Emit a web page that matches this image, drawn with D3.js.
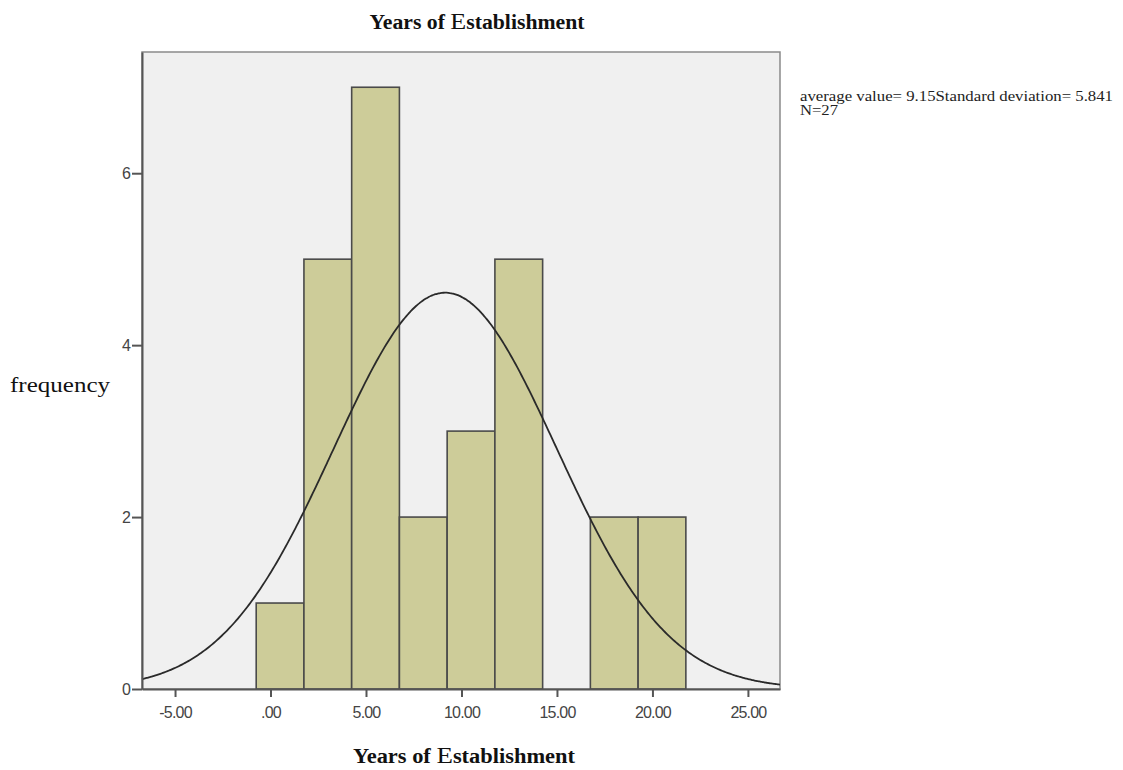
<!DOCTYPE html>
<html>
<head>
<meta charset="utf-8">
<script src="https://cdn.jsdelivr.net/npm/d3@7"></script>
<style>
  html, body { margin: 0; padding: 0; background: #ffffff; }
  svg { display: block; }
</style>
</head>
<body>
<svg id="chart" width="1123" height="770"></svg>
<script>
// Histogram of years since establishment, with fitted normal curve
const binStarts = [-0.75, 1.75, 4.25, 6.75, 9.25, 11.75, 14.25, 16.75, 19.25];
const binWidth = 2.5;
const frequencies = [1, 5, 7, 2, 3, 5, 0, 2, 2];
const meanValue = 9.15;
const stdDev = 5.841;
const sampleSize = 27;
const xTicks = [-5, 0, 5, 10, 15, 20, 25];
const yTicks = [0, 2, 4, 6];
const xDomain = [-6.73, 26.68];
const yDomain = [0, 7.41];

const svg = d3.select("#chart");
const plot = { left: 142, right: 780, top: 52, bottom: 689 };

const x = d3.scaleLinear().domain(xDomain).range([plot.left, plot.right]);
const y = d3.scaleLinear().domain(yDomain).range([plot.bottom, plot.top]);

// plot background and frame
svg.append("rect")
  .attr("x", plot.left).attr("y", plot.top)
  .attr("width", plot.right - plot.left).attr("height", plot.bottom - plot.top)
  .attr("fill", "#f0f0f0")
  .attr("stroke", "#8a8a8a").attr("stroke-width", 1.5);

// bars
const bins = binStarts.map((s, i) => ({ x0: s, x1: s + binWidth, count: frequencies[i] }))
  .filter(b => b.count > 0);
svg.append("g").selectAll("rect").data(bins).join("rect")
  .attr("x", d => x(d.x0))
  .attr("y", d => y(d.count))
  .attr("width", d => x(d.x1) - x(d.x0))
  .attr("height", d => y(0) - y(d.count))
  .attr("fill", "#cdcc99")
  .attr("stroke", "#4a4a4a").attr("stroke-width", 1.6);

// fitted normal curve, scaled to counts per bin
const density = v => sampleSize * binWidth / (stdDev * Math.sqrt(2 * Math.PI)) *
  Math.exp(-0.5 * Math.pow((v - meanValue) / stdDev, 2));
const curvePts = d3.range(0, 401).map(i => {
  const v = xDomain[0] + (xDomain[1] - xDomain[0]) * i / 400;
  return [v, density(v)];
});
svg.append("path")
  .datum(curvePts)
  .attr("fill", "none")
  .attr("stroke", "#2a2a2a").attr("stroke-width", 1.8)
  .attr("d", d3.line().x(d => x(d[0])).y(d => y(d[1])).curve(d3.curveBasis));

// axes
const fmtX = v => d3.format(".2f")(v).replace("\u2212", "-").replace(/^0\./, ".");
const xAxis = svg.append("g")
  .attr("transform", `translate(0,${plot.bottom})`)
  .call(d3.axisBottom(x).tickValues(xTicks).tickFormat(fmtX).tickSize(8).tickSizeOuter(0));
const yAxis = svg.append("g")
  .attr("transform", `translate(${plot.left},0)`)
  .call(d3.axisLeft(y).tickValues(yTicks).tickFormat(d3.format("d")).tickSize(10).tickSizeOuter(0));

[xAxis, yAxis].forEach(g => {
  g.select(".domain").attr("stroke", "#555").attr("stroke-width", 2);
  g.selectAll(".tick line").attr("stroke", "#555").attr("stroke-width", 2);
  g.selectAll(".tick text")
    .attr("fill", "#444")
    .style("font-family", "'Liberation Sans', Arial, sans-serif")
    .style("font-size", "16px")
    .style("letter-spacing", "-0.8px");
});
xAxis.selectAll(".tick text").attr("y", 14).attr("dy", "0.95em");
yAxis.selectAll(".tick text").attr("x", -12);

// titles
function serifTitle(tx, ty, len) {
  const t = svg.append("text")
    .attr("x", tx).attr("y", ty)
    .attr("text-anchor", "middle")
    .attr("textLength", len).attr("lengthAdjust", "spacingAndGlyphs")
    .style("font-family", "'Liberation Serif', 'Times New Roman', serif")
    .style("font-weight", "bold")
    .style("font-size", "20px")
    .attr("fill", "#111");
  t.append("tspan").text("Years of ");
  t.append("tspan").style("font-size", "24px").style("font-weight", "normal").text("E");
  t.append("tspan").text("stablishment");
}
serifTitle(477, 29, 215);
serifTitle(464, 763, 222);

svg.append("text")
  .attr("x", 10).attr("y", 392)
  .attr("textLength", 100).attr("lengthAdjust", "spacingAndGlyphs")
  .style("font-family", "'Liberation Serif', 'Times New Roman', serif")
  .style("font-size", "22px")
  .attr("fill", "#111")
  .text("frequency");

// summary statistics
const stats = svg.append("g")
  .style("font-family", "'Liberation Serif', 'Times New Roman', serif")
  .style("font-size", "14px")
  .attr("fill", "#222");
stats.append("text")
  .attr("x", 800).attr("y", 101)
  .attr("textLength", 313).attr("lengthAdjust", "spacingAndGlyphs")
  .text(`average value= ${meanValue}Standard deviation= ${stdDev}`);
stats.append("text")
  .attr("x", 800).attr("y", 115)
  .attr("textLength", 38).attr("lengthAdjust", "spacingAndGlyphs")
  .text(`N=${sampleSize}`);
</script>
</body>
</html>
